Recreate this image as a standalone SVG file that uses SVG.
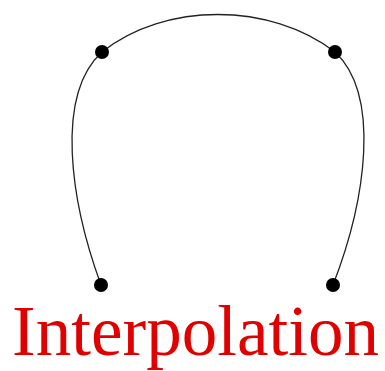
<svg xmlns="http://www.w3.org/2000/svg" width="385" height="371" viewBox="0 0 385 371">
<style>
.curve{fill:none;stroke:#222;stroke-width:1.3}
.pt{fill:#000}
.lbl{font-family:"Liberation Serif","Times New Roman",serif;font-size:71px;fill:#e10000}
</style>
<rect width="385" height="371" fill="#fff"/>
<g id="connectors">
<path class="curve" d="M101,285 C70,200 55,95 102,52 C165,2 270,2 335,52 C381,95 366,200 333,285"/>
</g>
<g id="p1"><circle class="pt" cx="101" cy="285" r="7"/></g>
<g id="p2"><circle class="pt" cx="102" cy="52" r="7"/></g>
<g id="p3"><circle class="pt" cx="335" cy="52" r="7"/></g>
<g id="p4"><circle class="pt" cx="333" cy="285" r="7"/></g>
<g id="label"><text class="lbl" x="12" y="355" textLength="367">Interpolation</text></g>
</svg>
